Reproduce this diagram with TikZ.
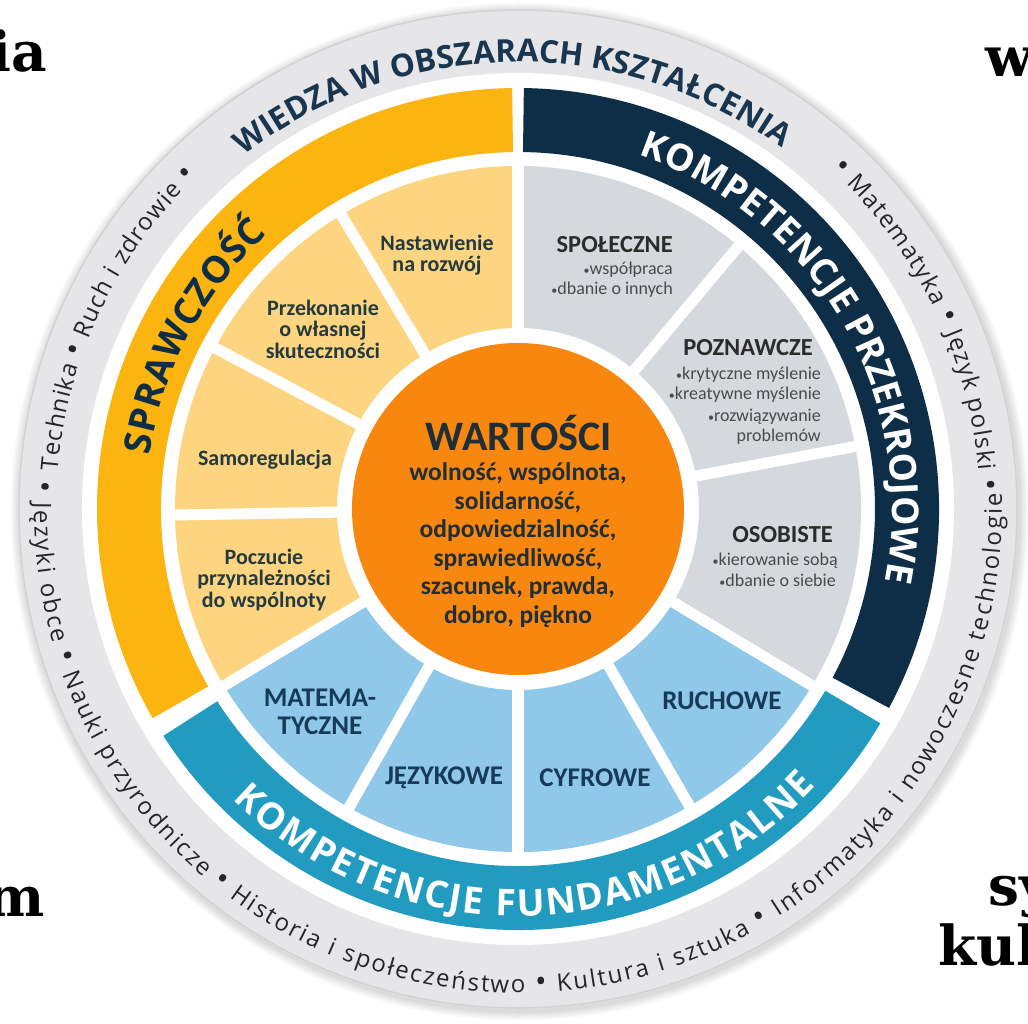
\documentclass[tikz,border=0pt]{standalone}
\usepackage{fontspec}
\setmainfont{Carlito}
\newfontfamily\ringfont{Open Sans}
\newfontfamily\slabfont{DejaVu Serif}
\usetikzlibrary{decorations.text}
\definecolor{ylw}{HTML}{FBB410}
\definecolor{ylwl}{HTML}{FDD580}
\definecolor{navyb}{HTML}{0E2E47}
\definecolor{tealb}{HTML}{229BC1}
\definecolor{bluel}{HTML}{8FC8E9}
\definecolor{grayseg}{HTML}{D5D8DD}
\definecolor{ringg}{HTML}{E6E6E8}
\definecolor{ringedge}{HTML}{D2D2D4}
\definecolor{orng}{HTML}{F7870F}
\definecolor{valtxt}{HTML}{1F2E38}
\definecolor{segdark}{HTML}{243A40}
\definecolor{bluedark}{HTML}{173A5A}
\definecolor{graytitle}{HTML}{2B2B2B}
\definecolor{graysubc}{HTML}{4A4A4A}
\definecolor{ringtxt}{HTML}{262628}
\definecolor{wiedza}{HTML}{183650}
\newcommand\rsmall{\ringfont\fontsize{24}{24}\selectfont}
\newcommand\rbul{\ringfont\fontsize{31}{31}\selectfont}
\newcommand\rbig{\ringfont\bfseries\fontsize{31.5}{31.5}\selectfont}
\newcommand\bandfont{\ringfont\bfseries\fontsize{37}{37}\selectfont}
\newcommand\wsector[5]{\fill[#1] (#2:#4) arc[start angle=#2, end angle=#3, radius=#4] -- (#3:#5) arc[start angle=#3, end angle=#2, radius=#5] -- cycle;}
\newcommand\arctext[6]{\path[decorate, decoration={text along path, text={|#5|#6}, text align={fit to path}, text color=#1}] (#3:#2) arc[start angle=#3, end angle=#4, radius=#2];}
\tikzset{
  segtxt/.style={font=\fontsize{22}{21.5}\selectfont\bfseries, text=segdark, align=center, inner sep=0},
  blutxt/.style={font=\fontsize{27}{28}\selectfont\bfseries, text=bluedark, align=center, inner sep=0},
  gtitle/.style={font=\fontsize{24.5}{24.5}\selectfont\bfseries, text=graytitle, anchor=east, inner sep=0},
  gsub/.style={font=\fontsize{18}{18}\selectfont, text=graysubc, anchor=east, inner sep=0},
  slab/.style={font=\slabfont\bfseries\fontsize{55}{55}\selectfont, text=black, inner sep=0},
  sep/.style={white, line width=11}
}
\begin{document}
\begin{tikzpicture}[x=1pt,y=1pt]
\useasboundingbox (-518,-514) rectangle (510,509);
\fill[white] (-518,-514) rectangle (510,509);
% fragments of surrounding page text
\node[slab, anchor=base east] (tl) at (-471,437) {ia};
\node[slab, anchor=base west] (tr) at (467,432) {ws};
\node[slab, anchor=base east] (bl) at (-473,-407) {m};
\node[slab, anchor=base west] (br1) at (470,-396) {sy};
\node[slab, anchor=base west] (br2) at (420,-456) {kult};
% shadow
\foreach \k in {1,...,9} {\fill[black, opacity=0.016] (1.5,-2.5) circle ({500+\k});}
% outer ring
\fill[ringg] (0,0) circle (500);
\draw[ringedge, line width=1.5] (0,0) circle (499);
\fill[white] (0,0) circle (436);
% bands
\wsector{ylw}{90.8}{209.8}{421}{357}
\wsector{tealb}{212.6}{329.4}{421}{357}
\wsector{navyb}{331.8}{449.2}{421}{357}
% segments
\wsector{ylwl}{90}{211}{343}{181}
\wsector{bluel}{211}{329}{343}{181}
\wsector{grayseg}{329}{450}{343}{181}
\foreach \a in {90,121,152,181,211,240.5,270,300,329,10.5,50} {\draw[sep] (\a:172) -- (\a:349);}
% centre
\fill[orng] (0,0) circle (166);
\node[font=\fontsize{42}{42}\selectfont\bfseries, text=valtxt, inner sep=0] (wart) at (1,76) {WARTOŚCI};
\node[font=\fontsize{25.5}{28.5}\selectfont\bfseries, text=valtxt, align=center, inner sep=0] (vals) at (0,-36) {wolność, wspólnota,\\solidarność,\\odpowiedzialność,\\sprawiedliwość,\\szacunek, prawda,\\dobro, piękno};
% yellow segment labels
\node[segtxt] (nast) at (-81,254) {Nastawienie\\na rozwój};
\node[segtxt] (przek) at (-195,180) {Przekonanie\\o własnej\\skuteczności};
\node[segtxt] (samo) at (-253,49) {Samoregulacja};
\node[segtxt] (pocz) at (-254,-71) {Poczucie\\przynależności\\do wspólnoty};
% blue segment labels
\node[blutxt] (mat) at (-198,-203) {MATEMA-\\TYCZNE};
\node[blutxt] (jez) at (-74,-269) {JĘZYKOWE};
\node[blutxt] (cyf) at (77,-269) {CYFROWE};
\node[blutxt] (ruch) at (204,-192) {RUCHOWE};
% grey segment labels
\node[gtitle] (spol) at (155,264) {SPOŁECZNE};
\node[gsub] (spol1) at (155,239) {{\fontsize{12}{12}\selectfont•}współpraca};
\node[gsub] (spol2) at (155,219) {{\fontsize{12}{12}\selectfont•}dbanie o innych};
\node[gtitle] (pozn) at (295,161) {POZNAWCZE};
\node[gsub] (pozn1) at (303,134) {{\fontsize{12}{12}\selectfont•}krytyczne myślenie};
\node[gsub] (pozn2) at (303,114) {{\fontsize{12}{12}\selectfont•}kreatywne myślenie};
\node[gsub] (pozn3) at (303,92) {{\fontsize{12}{12}\selectfont•}rozwiązywanie};
\node[gsub] (pozn4) at (303,72) {problemów};
\node[gtitle] (osob) at (315,-26) {OSOBISTE};
\node[gsub] (osob1) at (320,-52) {{\fontsize{12}{12}\selectfont•}kierowanie sobą};
\node[gsub] (osob2) at (318,-71) {{\fontsize{12}{12}\selectfont•}dbanie o siebie};
% band titles
\arctext{navyb}{372}{171.7}{132.3}{\bandfont}{SPRAWCZOŚĆ}
\arctext{white}{374}{71.2}{-9.7}{\bandfont}{KOMPETENCJE PRZEKROJOWE}
\arctext{white}{407}{225.5}{317.1}{\bandfont}{KOMPETENCJE FUNDAMENTALNE}
% ring texts
\arctext{ringtxt}{462}{175.3}{134}{\rsmall}{Technika |\rbul|•|\rsmall| Ruch i zdrowie |\rbul|•}
\arctext{wiedza}{447}{127.8}{53.8}{\rbig}{WIEDZA W OBSZARACH KSZTAŁCENIA}
\arctext{ringtxt}{462}{47.3}{2.2}{\rbul}{•|\rsmall| Matematyka |\rbul|•|\rsmall| Język polski |\rbul|•}
\arctext{ringtxt}{484}{176.6}{361.9}{\rbul}{•|\rsmall| Języki obce |\rbul|•|\rsmall| Nauki przyrodnicze |\rbul|•|\rsmall| Historia i społeczeństwo |\rbul|•|\rsmall| Kultura i sztuka |\rbul|•|\rsmall| Informatyka i nowoczesne technologie}
\end{tikzpicture}
\end{document}
